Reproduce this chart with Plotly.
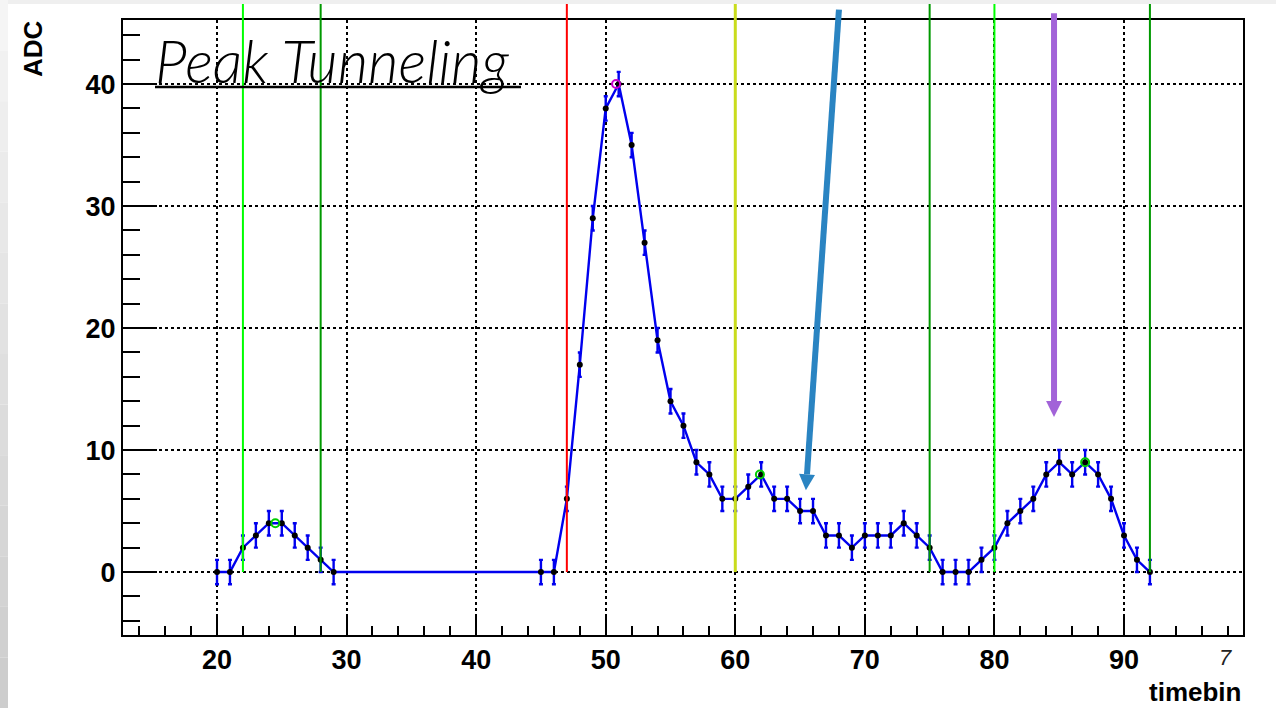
import plotly.graph_objects as go

# ADC samples per timebin (bins 30-44 were not read out)
timebin = [20, 21, 22, 23, 24, 25, 26, 27, 28, 29,
           45, 46, 47, 48, 49, 50, 51, 52, 53, 54, 55, 56, 57, 58, 59, 60,
           61, 62, 63, 64, 65, 66, 67, 68, 69, 70, 71, 72, 73, 74, 75, 76,
           77, 78, 79, 80, 81, 82, 83, 84, 85, 86, 87, 88, 89, 90, 91, 92]
adc = [0, 0, 2, 3, 4, 4, 3, 2, 1, 0,
       0, 0, 6, 17, 29, 38, 40, 35, 27, 19, 14, 12, 9, 8, 6, 6,
       7, 8, 6, 6, 5, 5, 3, 3, 2, 3, 3, 3, 4, 3, 2, 0,
       0, 0, 1, 2, 4, 5, 6, 8, 9, 8, 9, 8, 6, 3, 1, 0]
adc_err = [1] * len(adc)

# fitted peak positions
peak_x = [24.5, 61.9, 87.0]
peak_y = [4, 8, 9]
main_peak_x = [50.8]
main_peak_y = [40]

# window boundaries
bound_x = [22, 28, 47, 60, 75, 80, 92]
bound_col = ["#00ff00", "#009900", "#ff0000", "#c9dc1c", "#009900", "#00ff00", "#009900"]
bound_w = [2, 2, 2, 3, 2, 2, 2]

x_ticks = [20, 30, 40, 50, 60, 70, 80, 90]
y_ticks = [0, 10, 20, 30, 40]

X0, X1 = 12.745, 99.184
Y0, Y1 = -5.16, 45.25

W, H = 1276, 708
PL, PT, PW, PH = 123, 20, 1120, 615


def dx(v):
    return (v - X0) / (X1 - X0)


def dy(v):
    return (v - Y0) / (Y1 - Y0)


def px_x(px):
    return (px - PL) / PW


def px_y(py):
    return (PT + PH - py) / PH


def to_px(xv, yv):
    return PL + dx(xv) * PW, PT + (1 - dy(yv)) * PH


fig = go.Figure()

fig.add_trace(go.Scatter(
    x=timebin, y=adc, mode="lines+markers",
    line=dict(color="#0000ee", width=2.4),
    marker=dict(color="black", size=6),
    error_y=dict(type="data", array=adc_err, color="#0000ee", thickness=2.4, width=2),
    showlegend=False, hoverinfo="skip",
))
fig.add_trace(go.Scatter(
    x=peak_x, y=peak_y, mode="markers",
    marker=dict(symbol="circle-open", color="#00cc00", size=8, line=dict(width=2)),
    showlegend=False, hoverinfo="skip",
))
fig.add_trace(go.Scatter(
    x=main_peak_x, y=main_peak_y, mode="markers",
    marker=dict(symbol="circle-open", color="#cc00cc", size=8, line=dict(width=2)),
    showlegend=False, hoverinfo="skip",
))

shapes = []

# canvas edge shading
shapes.append(dict(type="rect", xref="paper", yref="paper",
                   x0=px_x(0), x1=px_x(W), y0=px_y(4), y1=px_y(0),
                   fillcolor="#efefef", line=dict(width=0), layer="below"))
n_band = 14
for i in range(n_band):
    g = int(245 - (245 - 205) * i / (n_band - 1))
    shapes.append(dict(type="rect", xref="paper", yref="paper",
                       x0=px_x(0), x1=px_x(8),
                       y0=px_y(H * (i + 1) / n_band), y1=px_y(H * i / n_band),
                       fillcolor=f"rgb({g},{g},{g})", line=dict(width=0), layer="below"))

# window boundary lines
for xv, col, lw in zip(bound_x, bound_col, bound_w):
    shapes.append(dict(type="line", xref="paper", yref="paper",
                       x0=dx(xv), x1=dx(xv), y0=dy(0), y1=px_y(4),
                       line=dict(color=col, width=lw), layer="above"))

# title underline
shapes.append(dict(type="line", xref="paper", yref="paper",
                   x0=px_x(155), x1=px_x(521), y0=px_y(87), y1=px_y(87),
                   line=dict(color="black", width=2.5), layer="above"))


def arrow(xt, yt, xh, yh, color, width=6, head_len=16, head_half=8):
    tx, ty = to_px(xt, yt)
    hx, hy = to_px(xh, yh)
    vx, vy = hx - tx, hy - ty
    n = (vx * vx + vy * vy) ** 0.5
    ux, uy = vx / n, vy / n
    bx, by = hx - ux * head_len, hy - uy * head_len
    nx, ny = -uy, ux
    out = [dict(type="line", xref="paper", yref="paper",
                x0=px_x(tx), y0=px_y(ty), x1=px_x(bx), y1=px_y(by),
                line=dict(color=color, width=width), layer="above")]
    pts = [(hx, hy), (bx + nx * head_half, by + ny * head_half),
           (bx - nx * head_half, by - ny * head_half)]
    path = "M " + " L ".join(f"{px_x(p[0]):.5f},{px_y(p[1]):.5f}" for p in pts) + " Z"
    out.append(dict(type="path", xref="paper", yref="paper", path=path,
                    fillcolor=color, line=dict(color=color, width=0), layer="above"))
    return out


shapes += arrow(68.0, 46.1, 65.45, 6.7, "#2a84c2")
shapes += arrow(84.6, 45.8, 84.6, 12.7, "#a263d8")

annotations = [
    dict(text="Peak Tunneling", xref="paper", yref="paper",
         x=px_x(153), y=px_y(60), xanchor="left", yanchor="middle", showarrow=False,
         font=dict(family="Lato", size=59, style="italic", weight=300, color="black")),
    dict(text="ADC", xref="paper", yref="paper", x=px_x(33), y=px_y(49),
         xanchor="center", yanchor="middle", textangle=-90, showarrow=False,
         font=dict(family="Liberation Sans", size=26, weight="bold", color="black")),
    dict(text="timebin", xref="paper", yref="paper", x=px_x(1243), y=px_y(692),
         xanchor="right", yanchor="middle", showarrow=False,
         font=dict(family="Liberation Sans", size=26, weight="bold", color="black")),
    dict(text="7", xref="paper", yref="paper", x=px_x(1225), y=px_y(657),
         xanchor="center", yanchor="middle", showarrow=False,
         font=dict(family="Liberation Sans", size=22, style="italic", color="#222222")),
]

axis_common = dict(
    showline=True, linecolor="black", linewidth=2, mirror=True,
    showgrid=True, gridcolor="black", gridwidth=1.8, griddash="dot",
    zeroline=False, ticks="inside", tickcolor="black", tickwidth=2,
    tickfont=dict(family="Liberation Sans", size=27, weight="bold", color="black"),
)

fig.update_layout(
    width=W, height=H,
    margin=dict(l=PL, r=W - PL - PW, t=PT, b=H - PT - PH, pad=0),
    paper_bgcolor="white", plot_bgcolor="white",
    xaxis=dict(range=[X0, X1], tickvals=x_ticks, ticklen=18,
               minor=dict(dtick=2, tick0=0, ticklen=9, tickcolor="black", tickwidth=2,
                          ticks="inside", showgrid=False),
               **axis_common),
    yaxis=dict(range=[Y0, Y1], tickvals=y_ticks, ticklen=34,
               minor=dict(dtick=2, tick0=0, ticklen=17, tickcolor="black", tickwidth=2,
                          ticks="inside", showgrid=False),
               **axis_common),
    shapes=shapes,
    annotations=annotations,
)

fig.write_html("out.html")
